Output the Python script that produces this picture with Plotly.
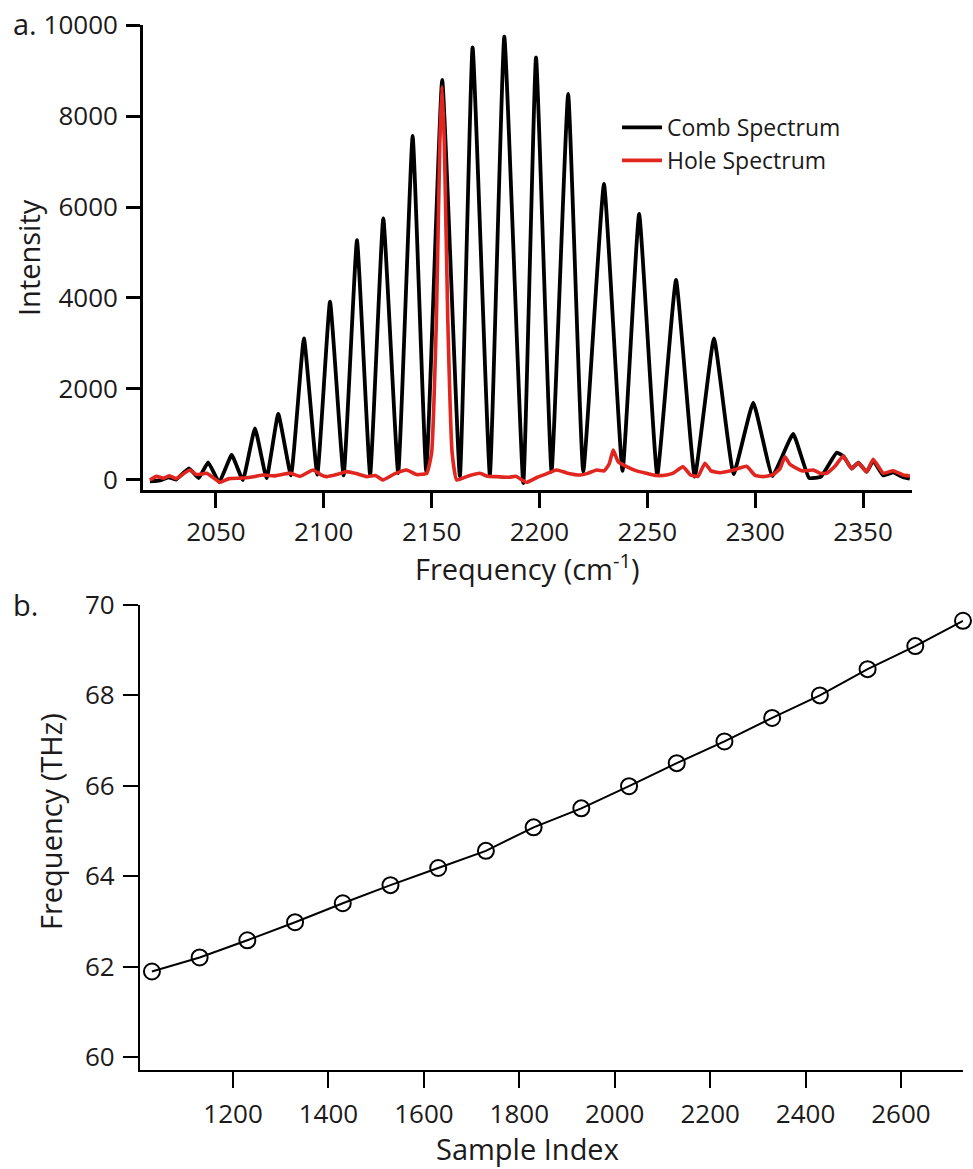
import plotly.graph_objects as go

W, H = 973, 1169

# ---- panel a: comb and hole spectra (wavenumber in cm^-1, intensity in counts)
comb_x = [2019.4, 2024.0, 2028.0, 2031.5, 2037.5, 2042.0, 2046.4, 2051.5, 2057.3, 2062.5,
          2068.1, 2073.5, 2078.9, 2084.8, 2090.8, 2097.0, 2102.9, 2109.2, 2115.4, 2121.5,
          2127.6, 2134.5, 2141.2, 2147.5, 2154.9, 2163.1, 2169.0, 2177.0, 2183.7, 2192.5,
          2198.4, 2205.6, 2213.3, 2220.3, 2229.9, 2238.5, 2246.2, 2254.6, 2263.3, 2272.0,
          2280.9, 2290.0, 2299.1, 2308.0, 2317.6, 2325.0, 2330.5, 2337.8, 2341.0, 2344.7,
          2347.8, 2351.7, 2354.7, 2359.4, 2364.0, 2368.6, 2371.7]
comb_y = [-30, -10, 60, 10, 257, 40, 389, -50, 549, 0,
          1136, 40, 1450, 100, 3114, 120, 3919, 100, 5270, 110,
          5751, 150, 7560, 183, 8791, 73, 9510, 110, 9743, -66,
          9290, 183, 8484, 183, 6505, 200, 5846, 110, 4396, 73,
          3114, 132, 1700, 88, 1011, 44, 73, 600, 520, 250,
          380, 180, 420, 100, 170, 60, 30]

hole_x = [2019.4, 2022.5, 2025.5, 2028.5, 2031.5, 2034.5, 2037.9, 2041.0, 2045.7, 2048.5,
          2051.9, 2056.0, 2061.1, 2066.0, 2071.8, 2077.0, 2084.3, 2089.0, 2095.0, 2098.5,
          2101.3, 2106.0, 2110.6, 2115.0, 2119.9, 2124.0, 2127.4, 2133.0, 2138.4, 2143.0,
          2147.7, 2150.0, 2152.2, 2153.8, 2154.8, 2155.9, 2157.5, 2159.5, 2161.6, 2167.0,
          2172.4, 2176.0, 2180.1, 2186.0, 2189.0, 2194.0, 2199.0, 2203.0, 2207.9, 2213.0,
          2218.8, 2222.0, 2226.5, 2230.0, 2232.3, 2234.2, 2236.5, 2240.4, 2245.0, 2249.7,
          2254.0, 2258.9, 2262.0, 2266.6, 2270.0, 2273.5, 2276.7, 2279.5, 2283.7, 2290.0,
          2296.0, 2300.0, 2303.7, 2308.0, 2311.5, 2313.8, 2316.0, 2319.2, 2322.0, 2326.9,
          2330.0, 2333.1, 2337.0, 2340.8, 2344.7, 2347.8, 2351.7, 2354.7, 2359.4, 2364.0,
          2368.6, 2371.7]
hole_y = [0, 80, 40, 90, 30, 120, 220, 120, 147, 60,
          -50, 30, 40, 60, 110, 90, 150, 80, 220, 120,
          73, 120, 183, 140, 73, 100, 0, 140, 220, 120,
          147, 600, 3500, 7400, 8650, 7400, 3500, 600, 0, 90,
          147, 80, 73, 60, 80, -50, 60, 130, 220, 150,
          110, 140, 220, 200, 350, 660, 400, 293, 200, 147,
          100, 110, 150, 293, 110, 80, 367, 200, 160, 220,
          300, 100, 73, 110, 250, 512, 350, 257, 200, 220,
          150, 147, 300, 527, 250, 380, 180, 455, 147, 204,
          110, 88]

spec_xticks = [2050, 2100, 2150, 2200, 2250, 2300, 2350]
spec_yticks = [0, 2000, 4000, 6000, 8000, 10000]

# ---- panel b: frequency calibration against sample index
sample_idx = [1030, 1130, 1230, 1330, 1430, 1530, 1630, 1730, 1830, 1930,
              2030, 2130, 2230, 2330, 2430, 2530, 2630, 2730]
freq_thz = [61.89, 62.20, 62.58, 62.98, 63.40, 63.80, 64.18, 64.56, 65.08, 65.50,
            65.99, 66.50, 66.98, 67.50, 68.00, 68.58, 69.09, 69.65]

cal_xticks = [1200, 1400, 1600, 1800, 2000, 2200, 2400, 2600]
cal_yticks = [60, 62, 64, 66, 68, 70]

FONT = "Open Sans"
INK = "#1c1a1a"
RED = "#e1251f"


def px(x):
    return x / W


def py(y):
    return 1 - y / H


fig = go.Figure()

fig.add_trace(go.Scatter(
    x=comb_x, y=comb_y, mode="lines", name="Comb Spectrum",
    line=dict(color="#000000", width=3.8, shape="spline", smoothing=0.35),
    xaxis="x", yaxis="y",
))
fig.add_trace(go.Scatter(
    x=hole_x, y=hole_y, mode="lines", name="Hole Spectrum",
    line=dict(color=RED, width=3.6, shape="spline", smoothing=0.4),
    xaxis="x", yaxis="y",
))
fig.add_trace(go.Scatter(
    x=sample_idx, y=freq_thz, mode="lines+markers", showlegend=False,
    line=dict(color="#000000", width=2),
    marker=dict(symbol="circle-open", size=16, color="#000000", line=dict(width=2)),
    cliponaxis=False,
    xaxis="x2", yaxis="y2",
))

axis_common = dict(
    showgrid=False, zeroline=False, showline=True, linecolor="#000000",
    ticks="outside", tickcolor="#000000",
    tickfont=dict(family=FONT, size=26, color=INK),
    mirror=False, automargin=False,
)

fig.update_layout(
    width=W, height=H,
    margin=dict(l=0, r=0, t=0, b=0, autoexpand=False),
    paper_bgcolor="white", plot_bgcolor="white",
    font=dict(family=FONT, color=INK),
    xaxis=dict(
        **axis_common, domain=[px(143), px(912)], range=[2016.2, 2372.7],
        tickvals=spec_xticks, ticktext=[str(v) for v in spec_xticks],
        linewidth=2.8, tickwidth=2.8, ticklen=15,
        ticklabelstandoff=2, anchor="y",
    ),
    yaxis=dict(
        **axis_common, domain=[py(490), py(25)], range=[-220, 10000],
        tickvals=spec_yticks, ticktext=[str(v) for v in spec_yticks],
        linewidth=2.8, tickwidth=2.8, ticklen=14,
        ticklabelstandoff=3, anchor="x",
    ),
    xaxis2=dict(
        **axis_common, domain=[px(140), px(963)], range=[1005, 2730],
        tickvals=cal_xticks, ticktext=[str(v) for v in cal_xticks],
        linewidth=2.2, tickwidth=2.2, ticklen=16,
        ticklabelstandoff=4, anchor="y2",
    ),
    yaxis2=dict(
        **axis_common, domain=[py(1070), py(605)], range=[59.71, 70],
        tickvals=cal_yticks, ticktext=[str(v) for v in cal_yticks],
        linewidth=2.2, tickwidth=2.2, ticklen=15,
        ticklabelstandoff=3, anchor="x2",
    ),
    legend=dict(
        x=px(617), y=py(106), xanchor="left", yanchor="top",
        bgcolor="rgba(0,0,0,0)", borderwidth=0,
        font=dict(family=FONT, size=23, color=INK),
        tracegroupgap=0, itemwidth=40,
    ),
)

titles = [
    dict(text="Intensity", x=px(28), y=py(258), textangle=-90),
    dict(text="Frequency (cm<sup>-1</sup>)", x=px(527), y=py(567), textangle=0),
    dict(text="Frequency (THz)", x=px(50), y=py(822), textangle=-90),
    dict(text="Sample Index", x=px(527), y=py(1148), textangle=0),
    dict(text="a.", x=px(25), y=py(24), textangle=0),
    dict(text="b.", x=px(25), y=py(604), textangle=0),
]
for t in titles:
    fig.add_annotation(
        text=t["text"], x=t["x"], y=t["y"], xref="paper", yref="paper",
        xanchor="center", yanchor="middle", showarrow=False,
        textangle=t["textangle"],
        font=dict(family=FONT, size=29, color=INK),
    )

fig.write_html("out.html")
